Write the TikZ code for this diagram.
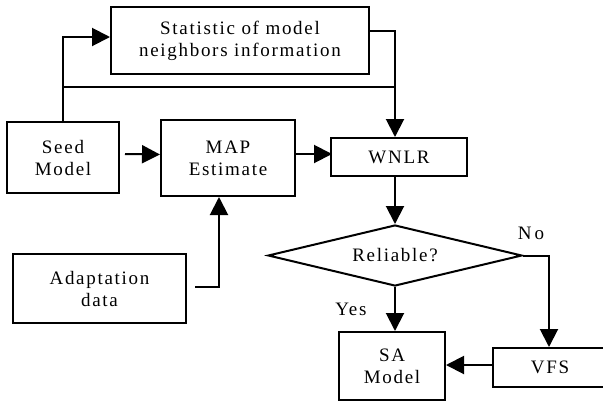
\documentclass[tikz,border=0pt]{standalone}
\usepackage{fontspec}
\setmainfont{Liberation Serif}[LetterSpace=9]
\usetikzlibrary{arrows.meta,shapes.geometric,calc}

\begin{document}
\begin{tikzpicture}[x=1pt,y=-1pt,
  every node/.style={font=\fontsize{19}{22}\selectfont, align=center, inner sep=0pt},
  box/.style={draw, line width=2pt, rectangle},
  link/.style={line width=2pt},
  arr/.style={line width=2pt, -{Triangle[length=18pt,width=18pt]}}]

  \useasboundingbox (0,0) rectangle (603,400);

  % processing blocks
  \node[box, minimum width=258pt, minimum height=67pt] (stat) at (240,40.5)
    {Statistic of model\\neighbors information};
  \node[box, minimum width=112pt, minimum height=71pt] (seed) at (63,157.5) {Seed\\Model};
  \node[box, minimum width=134pt, minimum height=76pt] (map) at (228,158) {MAP\\Estimate};
  \node[box, minimum width=136pt, minimum height=38pt] (wnlr) at (399,157) {WNLR};
  \node[box, minimum width=173pt, minimum height=69pt] (adapt) at (99.5,288.5) {Adaptation\\data};
  \node[draw, line width=2pt, diamond, aspect=4.16, minimum width=254pt, minimum height=61pt]
    (rel) at (395,255.5) {Reliable?};
  \node[box, minimum width=106pt, minimum height=68pt] (sa) at (392,366) {SA\\Model};
  \node[box, minimum width=114pt, minimum height=39pt] (vfs) at (550,367.5) {VFS};

  % branch labels
  \node (yes) at (351,309) {Yes};
  \node (no) at (531,233) {N\,o};

  % column of the right-hand chain
  \coordinate (col) at (395,0);
  \coordinate (seedtop) at ($(seed.north)+(0,2)$);
  \coordinate (statout) at ($(stat.north east)!0.36!(stat.south east)$);
  \coordinate (bus) at ($(seed.north)+(0,-34)$);

  % seed model feeds the statistic block and the WNLR
  \draw[arr] (seedtop) |- ($(stat.west)+(0,-3.5)$);
  \draw[link] (bus) -- (bus -| col);
  \draw[arr] (statout) -| (wnlr.north -| col);

  % main path
  \draw[arr] ($(seed.east)+(5,-3.5)$) -- ($(map.west)+(0,-3.5)$);
  \draw[arr] ($(map.east)+(0,-4)$) -- ($(map.east)+(36,-4)$);
  \draw[arr] ($(adapt.east)+(8,-1.5)$) -| ($(map.south)+(-9,0)$);
  \draw[arr] (wnlr.south -| col) -- (rel.north);
  \draw[arr] (rel.south) -- (sa.north -| rel.south);
  \draw[arr] (rel.east) -| (vfs.north -| 549,0);
  \draw[arr] ($(vfs.west)+(0,-2.5)$) -- ($(sa.east)+(0,-1)$);
\end{tikzpicture}
\end{document}
